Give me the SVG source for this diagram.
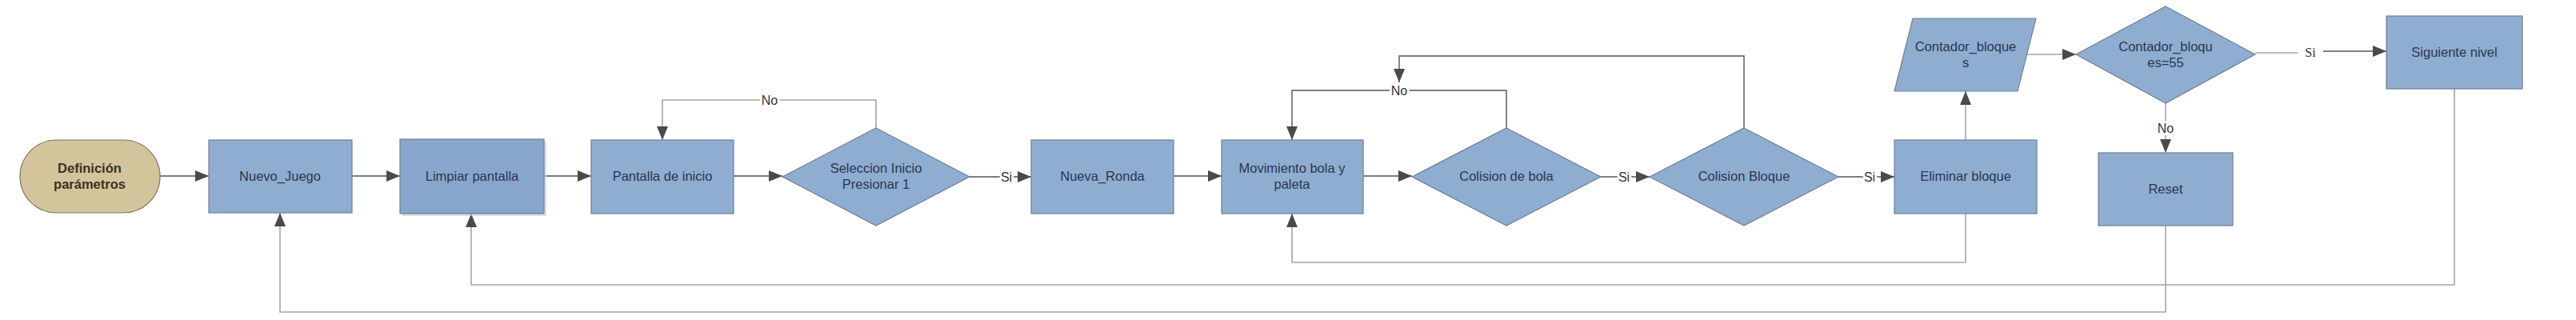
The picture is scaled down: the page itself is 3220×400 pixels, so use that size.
<svg xmlns="http://www.w3.org/2000/svg" width="3220" height="400" viewBox="0 0 3220 400">
<style>
.box{fill:#8FADD0;stroke:#6F7F93;stroke-width:1.2}
.term{fill:#D2C59B;stroke:#7D7560;stroke-width:1.2}
.t{font-family:"Liberation Sans",Arial,sans-serif;font-size:16.5px;fill:#2A3650;text-anchor:middle}
.tb{font-family:"Liberation Sans",Arial,sans-serif;font-size:16.5px;font-weight:bold;fill:#3A3222;text-anchor:middle}
.dk{fill:none;stroke:#555;stroke-width:1.4}
.lt{fill:none;stroke:#A6A6A6;stroke-width:1.6}
.lbl{font-family:"Liberation Sans",Arial,sans-serif;font-size:16px;fill:#333;text-anchor:middle;stroke:#fff;stroke-width:6px;paint-order:stroke;stroke-linejoin:round}
</style>
<defs>
<marker id="ah" markerUnits="userSpaceOnUse" markerWidth="18" markerHeight="14" refX="17" refY="7" orient="auto">
<path d="M0,0 L17,7 L0,14 Z" fill="#4A4A4A"/>
</marker>
</defs>
<rect width="3220" height="400" fill="#fff"/>
<g id="connectors">
<line class="dk" x1="200" y1="220" x2="261" y2="220" marker-end="url(#ah)"/>
<line class="dk" x1="440" y1="220" x2="500" y2="220" marker-end="url(#ah)"/>
<line class="dk" x1="680" y1="220" x2="739" y2="220" marker-end="url(#ah)"/>
<line class="dk" x1="917" y1="220" x2="978" y2="220" marker-end="url(#ah)"/>
<path class="lt" d="M1095,160 V125 H828 V175" marker-end="url(#ah)"/>
<line class="dk" x1="1212" y1="221" x2="1289" y2="221" marker-end="url(#ah)"/>
<line class="dk" x1="1467" y1="220" x2="1527" y2="220" marker-end="url(#ah)"/>
<line class="dk" x1="1704" y1="220" x2="1765" y2="220" marker-end="url(#ah)"/>
<path class="dk" d="M1883,160 V113 H1615 V175" marker-end="url(#ah)"/>
<path class="dk" d="M2180,160 V70 H1749 V103" marker-end="url(#ah)"/>
<line class="dk" x1="2001" y1="221" x2="2062" y2="221" marker-end="url(#ah)"/>
<line class="dk" x1="2298" y1="221" x2="2368" y2="221" marker-end="url(#ah)"/>
<line class="lt" x1="2457" y1="175" x2="2457" y2="114" marker-end="url(#ah)"/>
<path class="lt" d="M2457,267 V328 H1615 V267" marker-end="url(#ah)"/>
<line class="lt" x1="2534" y1="68" x2="2595" y2="68" marker-end="url(#ah)"/>
<line class="lt" x1="2819" y1="66" x2="2872" y2="66"/>
<line class="dk" x1="2904" y1="64" x2="2983" y2="64" marker-end="url(#ah)"/>
<line class="lt" x1="2707" y1="129" x2="2707" y2="191" marker-end="url(#ah)"/>
<path class="lt" d="M2707,282 V390 H350 V266" marker-end="url(#ah)"/>
<path class="lt" d="M3068,111 V356 H589 V267" marker-end="url(#ah)"/>
<text class="lbl" x="962" y="131">No</text>
<text class="lbl" x="1258" y="227">Si</text>
<text class="lbl" x="1749" y="119">No</text>
<text class="lbl" x="2030" y="227">Si</text>
<text class="lbl" x="2337" y="227">Si</text>
<text class="lbl" x="2888" y="71" style="font-family:'Liberation Serif',serif">Si</text>
<text class="lbl" x="2707" y="166">No</text>
</g>
<g id="n-definicion">
<rect class="term" x="25" y="175" width="175" height="91" rx="45.5"/>
<text class="tb" x="112" y="216">Definición</text>
<text class="tb" x="112" y="236">parámetros</text>
</g>
<g id="n-nuevo-juego">
<rect class="box" x="261" y="175" width="179" height="91"/>
<text class="t" x="350" y="226">Nuevo_Juego</text>
</g>
<g id="n-limpiar">
<rect x="503" y="177" width="180" height="93" fill="#C8CCD2" opacity="0.6"/>
<rect class="box" x="500" y="174" width="180" height="93" style="fill:#88A6CB"/>
<text class="t" x="590" y="226">Limpiar pantalla</text>
</g>
<g id="n-pantalla">
<rect class="box" x="739" y="175" width="178" height="92"/>
<text class="t" x="828" y="226">Pantalla de inicio</text>
</g>
<g id="n-seleccion">
<polygon class="box" points="1095,160 1212,221 1095,282 978,221"/>
<text class="t" x="1095" y="216">Seleccion Inicio</text>
<text class="t" x="1095" y="236">Presionar 1</text>
</g>
<g id="n-nueva-ronda">
<rect class="box" x="1289" y="175" width="178" height="92"/>
<text class="t" x="1378" y="226">Nueva_Ronda</text>
</g>
<g id="n-movimiento">
<rect class="box" x="1527" y="175" width="177" height="92"/>
<text class="t" x="1615" y="216">Movimiento bola y</text>
<text class="t" x="1615" y="236">paleta</text>
</g>
<g id="n-colision-bola">
<polygon class="box" points="1883,160 2001,221 1883,282 1765,221"/>
<text class="t" x="1883" y="226">Colision de bola</text>
</g>
<g id="n-colision-bloque">
<polygon class="box" points="2180,160 2298,221 2180,282 2062,221"/>
<text class="t" x="2180" y="226">Colision Bloque</text>
</g>
<g id="n-eliminar">
<rect class="box" x="2368" y="175" width="178" height="92"/>
<text class="t" x="2457" y="226">Eliminar bloque</text>
</g>
<g id="n-contador">
<polygon class="box" points="2391,23 2545,23 2522,114 2368,114"/>
<text class="t" x="2457" y="64">Contador_bloque</text>
<text class="t" x="2457" y="84">s</text>
</g>
<g id="n-contador-55">
<polygon class="box" points="2707,8 2819,68 2707,129 2595,68"/>
<text class="t" x="2707" y="64">Contador_bloqu</text>
<text class="t" x="2707" y="84">es=55</text>
</g>
<g id="n-reset">
<rect class="box" x="2623" y="191" width="168" height="91"/>
<text class="t" x="2707" y="242">Reset</text>
</g>
<g id="n-siguiente">
<rect class="box" x="2983" y="20" width="170" height="91"/>
<text class="t" x="3068" y="71">Siguiente nivel</text>
</g>
</svg>
